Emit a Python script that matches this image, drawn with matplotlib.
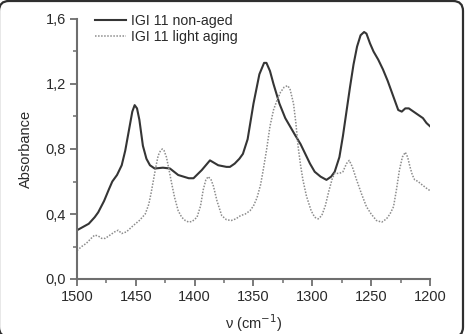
import matplotlib
matplotlib.use("Agg")
import matplotlib.pyplot as plt
from matplotlib.patches import FancyBboxPatch
from matplotlib.ticker import MultipleLocator, FuncFormatter

# ---- data ----
wn_nonaged = [1500, 1495, 1490, 1485, 1482, 1477, 1473, 1470, 1466, 1462, 1459, 1455,
              1453, 1451, 1449, 1447, 1444, 1441, 1438, 1434, 1427, 1421, 1414, 1405, 1401,
              1394, 1387, 1380, 1373, 1370, 1366, 1362, 1359, 1355, 1350, 1345, 1341,
              1339, 1336, 1333, 1328, 1323, 1319, 1315, 1310, 1306, 1302, 1298, 1293,
              1288, 1284, 1281, 1277, 1274, 1271, 1268, 1265, 1262, 1259, 1256, 1254,
              1251, 1248, 1244, 1240, 1236, 1232, 1229, 1227, 1224, 1221, 1218, 1214,
              1210, 1206, 1203, 1200]
abs_nonaged = [0.30, 0.32, 0.34, 0.38, 0.41, 0.48, 0.55, 0.60, 0.64, 0.70, 0.79, 0.95,
               1.03, 1.07, 1.05, 0.98, 0.82, 0.74, 0.70, 0.68, 0.685, 0.68, 0.64, 0.62, 0.62,
               0.67, 0.73, 0.70, 0.69, 0.69, 0.71, 0.74, 0.77, 0.86, 1.08, 1.26, 1.33,
               1.33, 1.28, 1.20, 1.08, 0.99, 0.94, 0.89, 0.83, 0.77, 0.71, 0.66, 0.63,
               0.61, 0.63, 0.66, 0.75, 0.88, 1.03, 1.18, 1.32, 1.43, 1.50, 1.52, 1.51,
               1.45, 1.40, 1.35, 1.29, 1.22, 1.14, 1.08, 1.04, 1.03, 1.05, 1.05, 1.03,
               1.01, 0.99, 0.96, 0.94]

wn_light = [1500, 1496, 1492, 1488, 1485, 1482, 1479, 1476, 1472, 1468, 1465, 1462,
            1458, 1455, 1452, 1447, 1442, 1439, 1437, 1435, 1433, 1431, 1429, 1427.5,
            1426, 1424, 1422, 1419.6, 1417, 1414, 1411, 1408, 1405, 1402, 1398, 1395,
            1392.7, 1390.5, 1388.5, 1386, 1384, 1381, 1377, 1373, 1369, 1365, 1361,
            1357, 1353, 1350, 1347, 1344, 1342, 1339, 1336, 1333, 1330, 1327, 1324,
            1321, 1319, 1316, 1314, 1312, 1310, 1308, 1305, 1301, 1298, 1295, 1292,
            1289, 1286, 1283, 1281, 1277, 1274, 1271, 1268.6, 1266, 1262.4, 1258, 1254,
            1250, 1245.5, 1241, 1237, 1234, 1231, 1228.5, 1226, 1223.5, 1221, 1219,
            1217, 1215, 1213, 1210, 1208.6, 1205, 1201.5, 1200]
abs_light = [0.175, 0.20, 0.22, 0.25, 0.27, 0.265, 0.25, 0.25, 0.27, 0.29, 0.30, 0.28,
             0.29, 0.31, 0.33, 0.36, 0.40, 0.46, 0.53, 0.61, 0.69, 0.76, 0.79, 0.80,
             0.79, 0.75, 0.68, 0.59, 0.50, 0.42, 0.38, 0.36, 0.35, 0.355, 0.38, 0.45,
             0.55, 0.61, 0.63, 0.61, 0.57, 0.48, 0.39, 0.365, 0.36, 0.37, 0.39,
             0.40, 0.42, 0.45, 0.50, 0.58, 0.66, 0.79, 0.94, 1.04, 1.10, 1.15, 1.18,
             1.19, 1.17, 1.08, 0.96, 0.81, 0.70, 0.61, 0.51, 0.42, 0.38, 0.37, 0.39,
             0.45, 0.54, 0.62, 0.65, 0.65, 0.66, 0.71, 0.73, 0.69, 0.61, 0.52, 0.445,
             0.40, 0.36, 0.35, 0.37, 0.40, 0.445, 0.55, 0.67, 0.75, 0.78, 0.75,
             0.69, 0.64, 0.61, 0.60, 0.59, 0.57, 0.55, 0.545]

labels = ["IGI 11 non-aged", "IGI 11 light aging"]

plt.rcParams['font.family'] = ['Liberation Sans', 'DejaVu Sans']
W, H = 465, 334
fig = plt.figure(figsize=(W / 100, H / 100), dpi=100)
ax = fig.add_axes([77 / W, (H - 279) / H, 353 / W, 260 / H])

ax.plot(wn_nonaged, abs_nonaged, color='#353535', lw=1.5, label=labels[0])
ax.plot(wn_light, abs_light, color='#8c8c8c', lw=1.1, ls=(0, (1, 1)), label=labels[1])

ax.set_xlim(1500, 1200)
ax.set_ylim(0, 1.6)
ax.xaxis.set_major_locator(MultipleLocator(50))
ax.xaxis.set_minor_locator(MultipleLocator(25))
ax.yaxis.set_major_locator(MultipleLocator(0.4))
ax.yaxis.set_minor_locator(MultipleLocator(0.2))
ax.yaxis.set_major_formatter(FuncFormatter(lambda v, p: f"{v:.1f}".replace('.', ',')))

for s in ['top', 'right']:
    ax.spines[s].set_visible(False)
for s in ['left', 'bottom']:
    ax.spines[s].set_color('#6e6e6e')
    ax.spines[s].set_linewidth(1.5)
ax.tick_params(which='major', direction='out', length=5, width=1.3, color='#6e6e6e',
               labelsize=10.5, labelcolor='#2a2a2a', pad=3)
ax.tick_params(which='minor', direction='out', length=3, width=1.1, color='#6e6e6e')

ax.set_ylabel("Absorbance", fontsize=10.5, color='#2a2a2a', labelpad=9)
ax.set_xlabel("ν (cm$^{-1}$)", fontsize=10.5, color='#2a2a2a', labelpad=6)

ax.legend(loc='upper left', bbox_to_anchor=(0.035, 1.04), frameon=False,
          fontsize=10.2, handlelength=2.2, handletextpad=0.35, labelspacing=0.15,
          borderaxespad=0, labelcolor='#2a2a2a')

border = FancyBboxPatch((-0.01, -0.03), 4.64, 3.36,
                        boxstyle="round,pad=0,rounding_size=0.1",
                        transform=fig.dpi_scale_trans, fc='none', ec='#2f2f2f', lw=1.6,
                        clip_on=False)
fig.patches.append(border)

fig.savefig("out.png", dpi=100)
